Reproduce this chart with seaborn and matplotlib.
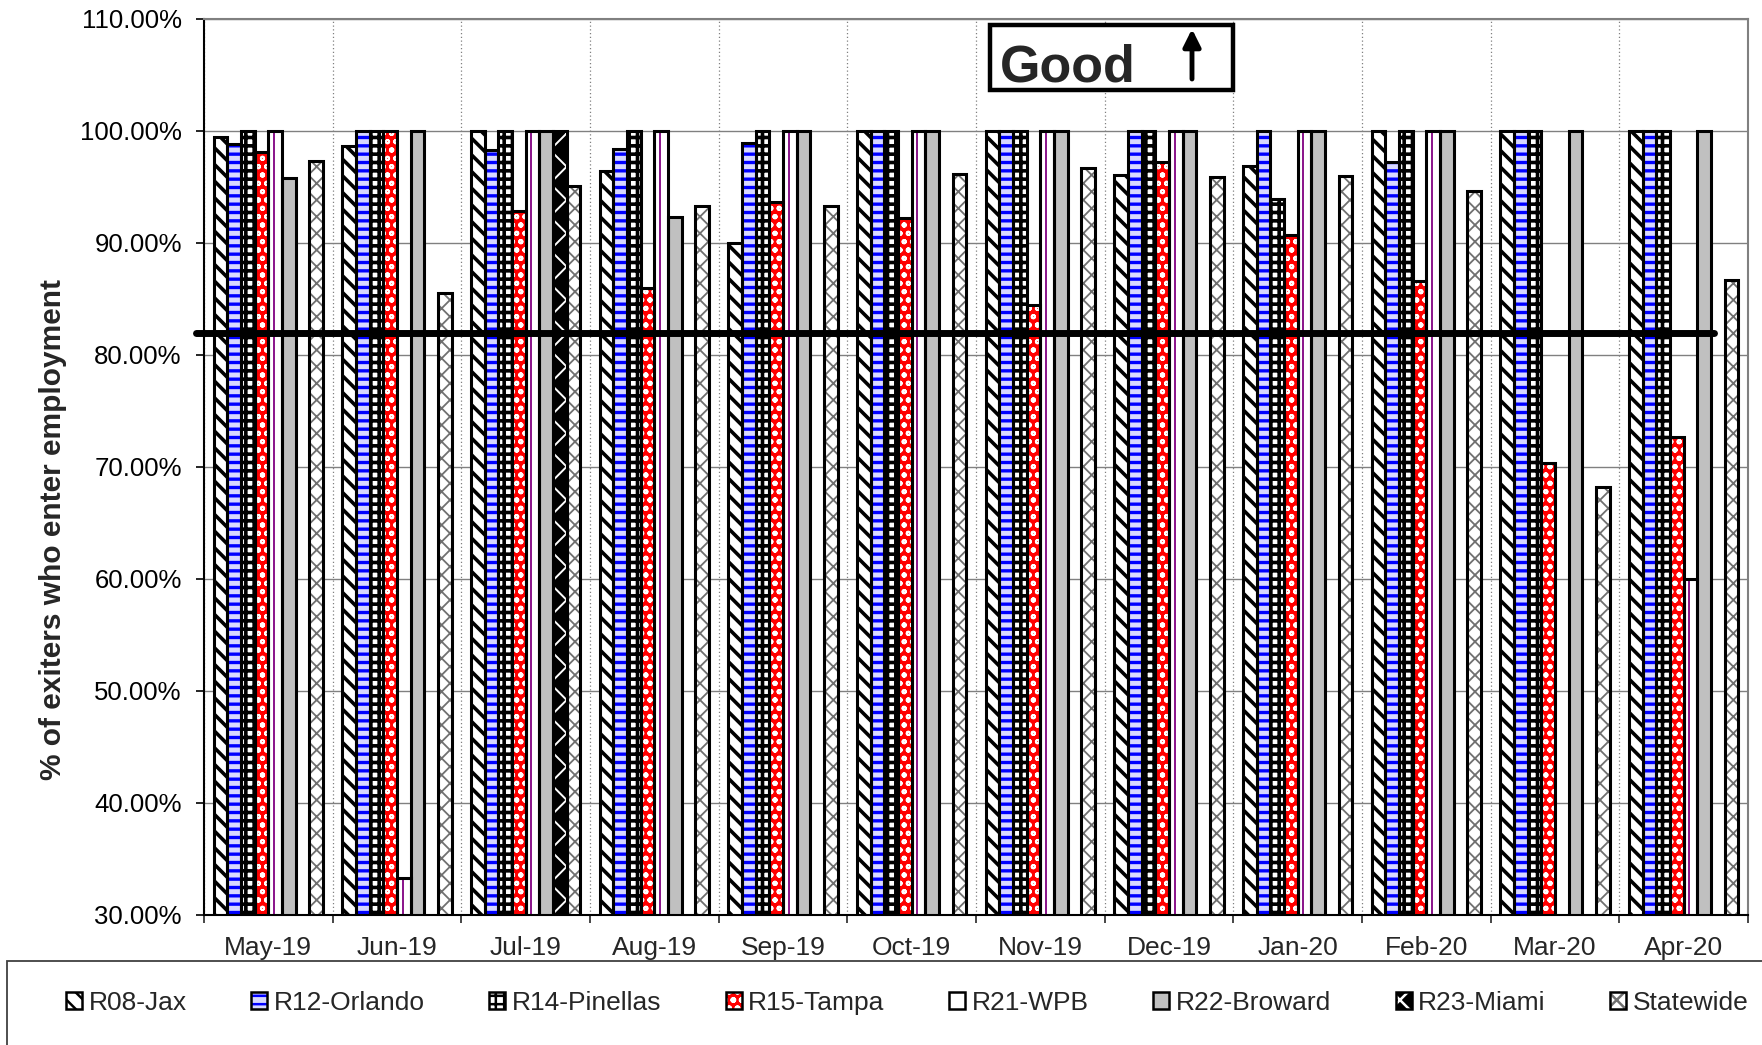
import numpy as np
import pandas as pd
import matplotlib
matplotlib.use("Agg")
import matplotlib.pyplot as plt
import seaborn as sns
from matplotlib.patches import Rectangle, Patch, FancyArrowPatch
from matplotlib.legend_handler import HandlerTuple
from matplotlib.ticker import FuncFormatter, FixedLocator

# ---------------- data ----------------
months = ["May-19", "Jun-19", "Jul-19", "Aug-19", "Sep-19", "Oct-19",
          "Nov-19", "Dec-19", "Jan-20", "Feb-20", "Mar-20", "Apr-20"]
regions = ["R08-Jax", "R12-Orlando", "R14-Pinellas", "R15-Tampa",
           "R21-WPB", "R22-Broward", "R23-Miami", "Statewide"]

r08_jax      = [99.5, 98.7, 100, 96.4, 90.0, 100, 100, 96.1, 96.9, 100, 100, 100]
r12_orlando  = [98.8, 100, 98.3, 98.4, 98.9, 100, 100, 100, 100, 97.2, 100, 100]
r14_pinellas = [100, 100, 100, 100, 100, 100, 100, 100, 93.9, 100, 100, 100]
r15_tampa    = [98.1, 100, 92.9, 86.0, 93.7, 92.2, 84.5, 97.2, 90.7, 86.6, 70.4, 72.7]
r21_wpb      = [100, 33.3, 100, 100, 100, 100, 100, 100, 100, 100, 0, 60.0]
r22_broward  = [95.8, 100, 100, 92.3, 100, 100, 100, 100, 100, 100, 100, 100]
r23_miami    = [0, 0, 100, 0, 0, 0, 0, 0, 0, 0, 0, 0]
statewide    = [97.3, 85.5, 95.1, 93.3, 93.3, 96.2, 96.7, 95.9, 96.0, 94.6, 68.2, 86.7]
goal = 82.0

series = [r08_jax, r12_orlando, r14_pinellas, r15_tampa,
          r21_wpb, r22_broward, r23_miami, statewide]

wide = pd.DataFrame({"Month": months})
for name, vals in zip(regions, series):
    wide[name] = vals
df = wide.melt(id_vars="Month", var_name="Region", value_name="Value")

# ---------------- style ----------------
sns.set_style("white")
plt.rcParams["font.family"] = ["Liberation Sans", "DejaVu Sans"]
plt.rcParams["hatch.linewidth"] = 1.8

styles = {
    "R08-Jax":      dict(face="white",   hatch="\\\\", hc="black",   hlw=2.6),
    "R12-Orlando":  dict(face="#D8D8FF", hatch="--",   hc="#0000FF", hlw=2.4),
    "R14-Pinellas": dict(face="white",   hatch="++",   hc="black",   hlw=2.6),
    "R15-Tampa":    dict(face="#FF0000", hatch="oo",   hc="white",   hlw=1.4),
    "R21-WPB":      dict(face="white",   hatch="",     hc="white",   hlw=1.0),
    "R22-Broward":  dict(face="#C0C0C0", hatch="",     hc="#C0C0C0", hlw=1.0),
    "R23-Miami":    dict(face="black",   hatch="x",    hc="white",   hlw=1.4),
    "Statewide":    dict(face="white",   hatch="xx",   hc="#707070", hlw=1.3),
}

fig = plt.figure(figsize=(17.62, 10.45), dpi=100)
ax = fig.add_axes([204 / 1762, 1 - 915 / 1045, (1748 - 204) / 1762, (915 - 19) / 1045])

sns.barplot(data=df, x="Month", y="Value", hue="Region", order=months,
            hue_order=regions, width=0.85, gap=0, dodge=True, errorbar=None,
            saturation=1, legend=False, ax=ax)

for reg, cont in zip(regions, ax.containers):
    st = styles[reg]
    for p in cont.patches:
        p.set_facecolor(st["face"])
        p.set_edgecolor(st["hc"])
        p.set_linewidth(0)
        if st["hatch"]:
            p.set_hatch(st["hatch"])
            if hasattr(p, "set_hatch_linewidth"):
                p.set_hatch_linewidth(st["hlw"])
        p.set_zorder(2)
        x0, y0 = p.get_xy()
        w, h = p.get_width(), p.get_height()
        if reg == "R21-WPB" and h > 0:
            xc = x0 + w * 0.42
            ax.plot([xc, xc], [y0, y0 + h], color="#800080", lw=1.3, zorder=2.5)
        ax.add_patch(Rectangle((x0, y0), w, h, fill=False, edgecolor="black",
                               lw=2.2, zorder=3))

# goal line
ax.axhline(goal, xmin=-0.005, xmax=0.978, color="black", lw=5, zorder=6, clip_on=False)

# axes
ax.set_ylim(30, 110)
ax.set_xlim(-0.5, len(months) - 0.5)
ax.yaxis.set_major_locator(FixedLocator(np.arange(30, 111, 10)))
ax.yaxis.set_major_formatter(FuncFormatter(lambda v, _: f"{v:.2f}%"))
ax.xaxis.set_minor_locator(FixedLocator(np.arange(-0.5, len(months), 1.0)))
ax.tick_params(axis="y", which="major", length=6, width=1.2, direction="out",
               labelsize=18.5, pad=10, left=True, colors="black")
ax.tick_params(axis="x", which="major", length=0, labelsize=19, pad=15)
ax.tick_params(axis="x", which="minor", length=6, width=1.2, direction="out", bottom=True)
ax.set_axisbelow(True)
ax.grid(axis="y", which="major", color="#808080", lw=1.0, ls="-")
ax.grid(axis="x", which="minor", color="#808080", lw=0.9, ls=(0, (1, 2)))
ax.grid(axis="x", which="major", visible=False)

ax.set_xlabel("")
ax.set_ylabel("% of exiters who enter employment", fontsize=21.5, fontweight="bold")
ax.yaxis.set_label_coords(-0.089, 0.43)

for s in ["left", "bottom"]:
    ax.spines[s].set_color("black")
    ax.spines[s].set_linewidth(1.5)
for s in ["top", "right"]:
    ax.spines[s].set_color("#808080")
    ax.spines[s].set_linewidth(1.5)

# "Good" box
fig.patches.append(Rectangle((990 / 1762, 1 - 90 / 1045), (1233 - 990) / 1762, 65 / 1045,
                             transform=fig.transFigure, facecolor="white",
                             edgecolor="black", lw=3.2, zorder=10))
fig.text(1000 / 1762, 1 - 82 / 1045, "Good", fontsize=37.5, fontweight="bold",
         va="baseline", ha="left", zorder=11)
arrow = FancyArrowPatch((1192, 1045 - 79), (1192, 1045 - 29),
                        transform=None, arrowstyle="-|>", lw=3.5, color="black",
                        mutation_scale=26, shrinkA=0, shrinkB=0, zorder=12)
fig.add_artist(arrow)

# legend frame
fig.patches.append(Rectangle((7 / 1762, -0.05), 1.0, 0.05 + 1 - 961 / 1045,
                             transform=fig.transFigure, fill=False,
                             edgecolor="#404040", lw=1.3))
handles = []
for reg in regions:
    st = styles[reg]
    inner = Patch(facecolor=st["face"], edgecolor=st["hc"], hatch=st["hatch"], lw=0)
    outer = Patch(fill=False, edgecolor="black", lw=1.8)
    handles.append((inner, outer))
fig.legend(handles, regions, ncol=8, loc="center left",
           bbox_to_anchor=(66 / 1762, 1 - 1003 / 1045), frameon=False,
           fontsize=19, handlelength=0.6, handleheight=0.6, handletextpad=0.25,
           columnspacing=2.45, borderpad=0, borderaxespad=0,
           handler_map={tuple: HandlerTuple(ndivide=1, pad=0)})

fig.savefig("out.png", dpi=100)
